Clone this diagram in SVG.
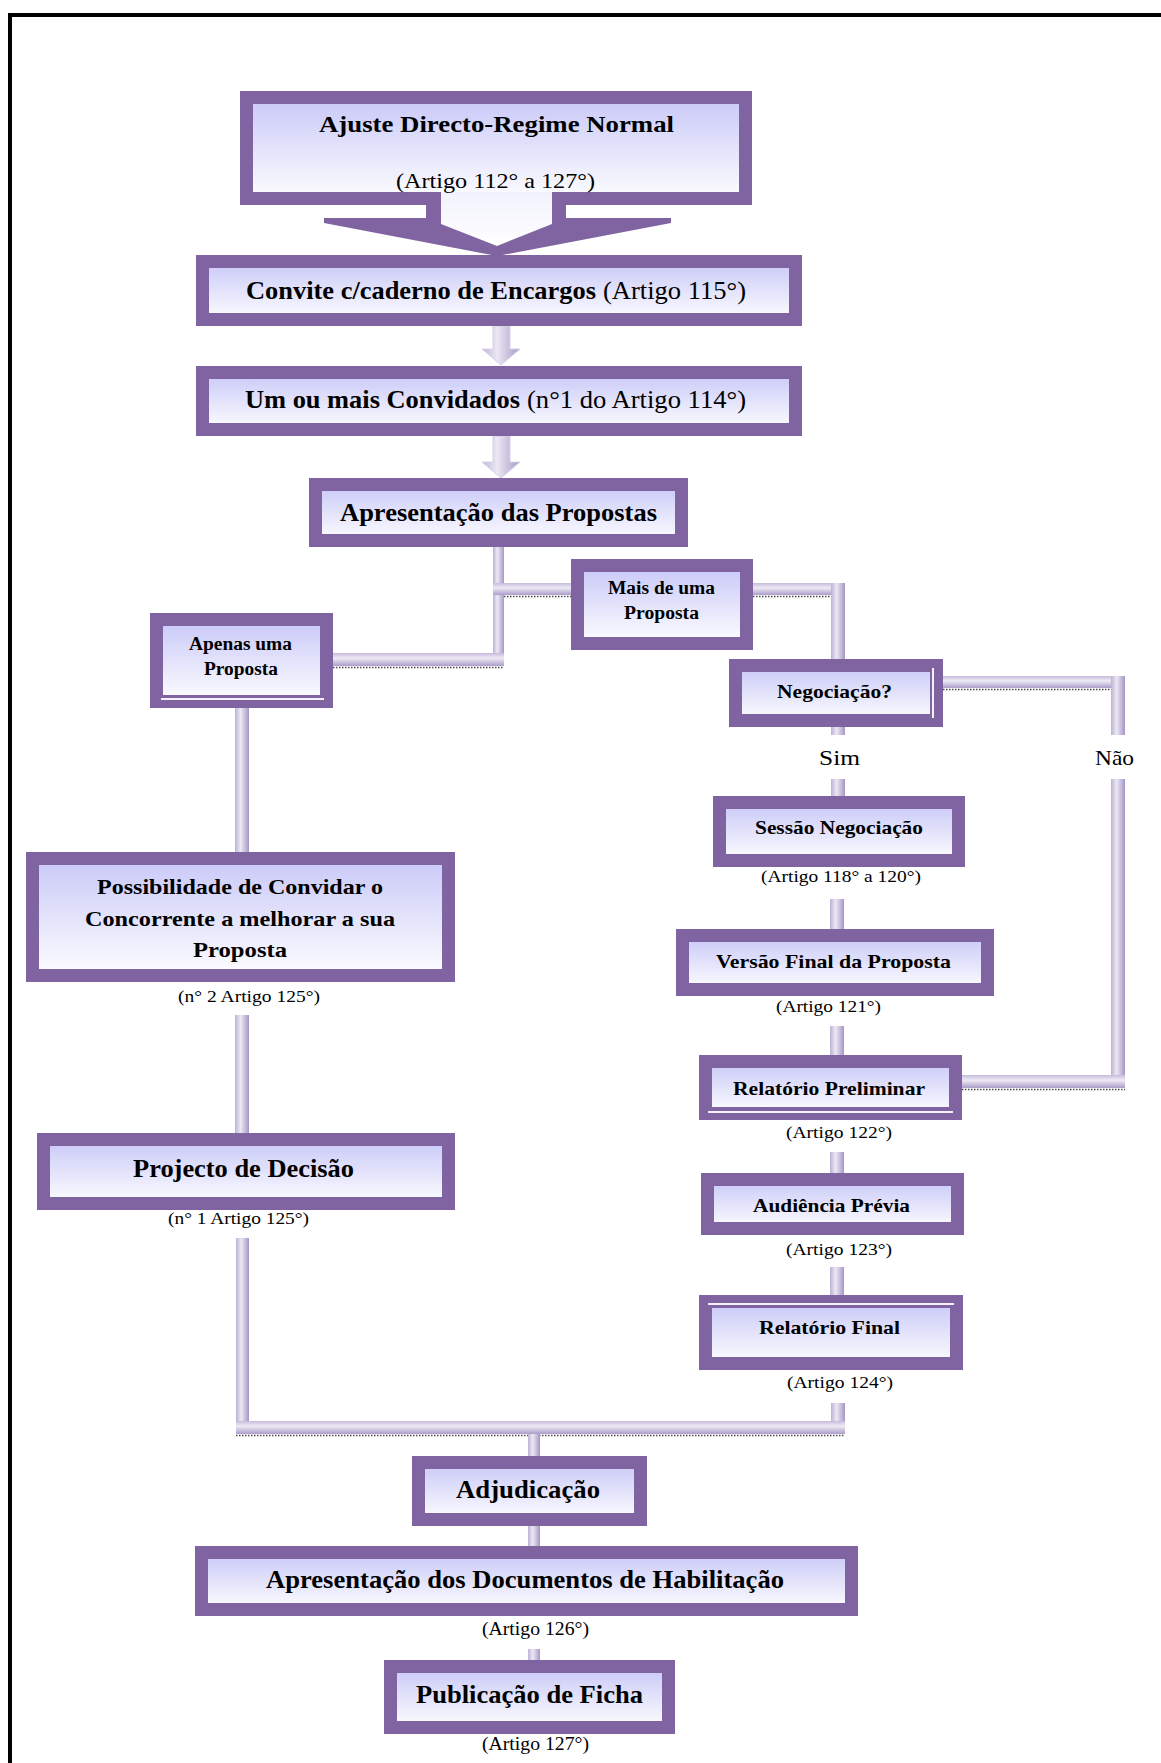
<svg xmlns="http://www.w3.org/2000/svg" width="1161" height="1763" viewBox="0 0 1161 1763">
<defs>
<linearGradient id="bg" x1="0" y1="0" x2="0" y2="1"><stop offset="0" stop-color="#c8c8f8"/><stop offset="1" stop-color="#fdfdff"/></linearGradient>
<linearGradient id="ag" x1="0" y1="0" x2="0" y2="1"><stop offset="0" stop-color="#f2f2fe"/><stop offset="1" stop-color="#ffffff"/></linearGradient>
<linearGradient id="pv" x1="0" y1="0" x2="1" y2="0"><stop offset="0" stop-color="#bdb2d6"/><stop offset="0.4" stop-color="#ece8f4"/><stop offset="1" stop-color="#a597c6"/></linearGradient>
<linearGradient id="ph" x1="0" y1="0" x2="0" y2="1"><stop offset="0" stop-color="#c6bcdc"/><stop offset="0.4" stop-color="#eeeaf5"/><stop offset="1" stop-color="#ab9dca"/></linearGradient>
<style>
.nb{fill:url(#bg);stroke:#8064A2;stroke-width:13}
.t{font-family:"Liberation Serif","Times New Roman",serif;fill:#000}
.b{font-weight:bold}
.pv{fill:url(#pv)}
.ph{fill:url(#ph)}
.dot{stroke:#4a4a4a;stroke-width:1.5;stroke-dasharray:1.5 1.5;fill:none}
.wl{stroke:#f4f0fa;stroke-width:2;fill:none}
</style>
</defs>
<rect width="1161" height="1763" fill="#fff"/>
<path d="M10,1763 V15 H1161" fill="none" stroke="#000" stroke-width="4"/>

<g id="connectors">
<rect class="pv" x="493" y="547" width="11" height="119"/>
<rect class="ph" x="493" y="583" width="78" height="12"/>
<line class="dot" x1="504" y1="596.5" x2="571" y2="596.5"/>
<rect class="ph" x="333" y="653" width="171" height="13"/>
<line class="dot" x1="333" y1="667.5" x2="504" y2="667.5"/>
<rect class="ph" x="753" y="583" width="92" height="12"/>
<line class="dot" x1="753" y1="596.5" x2="831" y2="596.5"/>
<rect class="pv" x="831" y="583" width="14" height="76"/>
<rect class="ph" x="943" y="676" width="182" height="12"/>
<line class="dot" x1="943" y1="689.5" x2="1111" y2="689.5"/>
<rect class="pv" x="1111" y="676" width="14" height="59"/>
<rect class="pv" x="1111" y="779" width="14" height="309"/>
<rect class="ph" x="962" y="1075" width="163" height="13"/>
<line class="dot" x1="962" y1="1089.5" x2="1125" y2="1089.5"/>
<rect class="pv" x="831" y="727" width="14" height="8"/>
<rect class="pv" x="831" y="779" width="14" height="18"/>
<rect class="pv" x="830" y="899" width="14" height="30"/>
<rect class="pv" x="830" y="1026" width="14" height="29"/>
<rect class="pv" x="830" y="1152" width="14" height="21"/>
<rect class="pv" x="830" y="1267" width="14" height="28"/>
<rect class="pv" x="831" y="1403" width="14" height="31"/>
<rect class="pv" x="235" y="708" width="14" height="144"/>
<rect class="pv" x="235" y="1015" width="14" height="118"/>
<rect class="pv" x="236" y="1238" width="13" height="196"/>
<rect class="ph" x="236" y="1421" width="609" height="13"/>
<line class="dot" x1="236" y1="1435.5" x2="845" y2="1435.5"/>
<rect class="pv" x="528" y="1434" width="12" height="22"/>
<rect class="pv" x="528" y="1526" width="12" height="20"/>
<rect class="pv" x="528" y="1649" width="12" height="11"/>
<polygon class="pv" points="493,326 510,326 510,349 520,349 501,365 482,349 493,349" stroke="#d8d0e8" stroke-width="1"/>
<polygon class="pv" points="493,436 510,436 510,462 520,462 501,478 482,462 493,462" stroke="#d8d0e8" stroke-width="1"/>
<text class="t" x="819" y="765" font-size="21" textLength="41" lengthAdjust="spacingAndGlyphs">Sim</text>
<text class="t" x="1095" y="765" font-size="21" textLength="39" lengthAdjust="spacingAndGlyphs">Não</text>
</g>

<g id="n1">
<polygon points="426,200 426,218 324,218 324,223 497,256 671,223 671,218 566,218 566,200" fill="#8064A2"/>
<rect class="nb" x="246.5" y="97.5" width="499" height="101"/>
<polygon points="441,192 441,224 497,246 552,224 552,192" fill="url(#ag)"/>
<text class="t b" x="319" y="132" font-size="23" textLength="355" lengthAdjust="spacingAndGlyphs">Ajuste Directo-Regime Normal</text>
<text class="t" x="396" y="188" font-size="21" textLength="199" lengthAdjust="spacingAndGlyphs">(Artigo 112° a 127°)</text>
</g>

<g id="n2">
<rect class="nb" x="202.5" y="261.5" width="593" height="58"/>
<text class="t b" x="246" y="299" font-size="25" textLength="350" lengthAdjust="spacingAndGlyphs">Convite c/caderno de Encargos</text>
<text class="t" x="603" y="299" font-size="25" textLength="143" lengthAdjust="spacingAndGlyphs">(Artigo 115°)</text>
</g>

<g id="n3">
<rect class="nb" x="202.5" y="372.5" width="593" height="57"/>
<text class="t b" x="245" y="408" font-size="25" textLength="275" lengthAdjust="spacingAndGlyphs">Um ou mais Convidados</text>
<text class="t" x="527" y="408" font-size="25" textLength="219" lengthAdjust="spacingAndGlyphs">(n°1 do Artigo 114°)</text>
</g>

<g id="n4">
<rect class="nb" x="315.5" y="484.5" width="366" height="56"/>
<text class="t b" x="340" y="521" font-size="25" textLength="317" lengthAdjust="spacingAndGlyphs">Apresentação das Propostas</text>
</g>

<g id="n5">
<rect class="nb" x="156.5" y="619.5" width="170" height="82"/>
<line class="wl" x1="161" y1="699" x2="324" y2="699"/>
<text class="t b" x="189" y="650" font-size="18" textLength="103" lengthAdjust="spacingAndGlyphs">Apenas uma</text>
<text class="t b" x="204" y="675" font-size="18" textLength="74" lengthAdjust="spacingAndGlyphs">Proposta</text>
</g>

<g id="n6">
<rect class="nb" x="577.5" y="565.5" width="169" height="78"/>
<text class="t b" x="608" y="594" font-size="18" textLength="107" lengthAdjust="spacingAndGlyphs">Mais de uma</text>
<text class="t b" x="624" y="619" font-size="18" textLength="75" lengthAdjust="spacingAndGlyphs">Proposta</text>
</g>

<g id="n7">
<rect class="nb" x="735.5" y="665.5" width="201" height="55"/>
<line class="wl" x1="933" y1="668" x2="933" y2="718"/>
<text class="t b" x="777" y="698" font-size="19" textLength="115" lengthAdjust="spacingAndGlyphs">Negociação?</text>
</g>

<g id="n8">
<rect class="nb" x="719.5" y="802.5" width="239" height="58"/>
<text class="t b" x="755" y="834" font-size="19" textLength="168" lengthAdjust="spacingAndGlyphs">Sessão Negociação</text>
<text class="t" x="761" y="882" font-size="17" textLength="160" lengthAdjust="spacingAndGlyphs">(Artigo 118° a 120°)</text>
</g>

<g id="n9">
<rect class="nb" x="682.5" y="935.5" width="305" height="54"/>
<text class="t b" x="716" y="968" font-size="19" textLength="235" lengthAdjust="spacingAndGlyphs">Versão Final da Proposta</text>
<text class="t" x="776" y="1012" font-size="17" textLength="105" lengthAdjust="spacingAndGlyphs">(Artigo 121°)</text>
</g>

<g id="n10">
<rect class="nb" x="705.5" y="1061.5" width="250" height="52"/>
<line class="wl" x1="708" y1="1112" x2="953" y2="1112"/>
<text class="t b" x="733" y="1095" font-size="19" textLength="192" lengthAdjust="spacingAndGlyphs">Relatório Preliminar</text>
<text class="t" x="786" y="1138" font-size="17" textLength="106" lengthAdjust="spacingAndGlyphs">(Artigo 122°)</text>
</g>

<g id="n11">
<rect class="nb" x="707.5" y="1179.5" width="250" height="49"/>
<text class="t b" x="753" y="1212" font-size="19" textLength="157" lengthAdjust="spacingAndGlyphs">Audiência Prévia</text>
<text class="t" x="786" y="1255" font-size="17" textLength="106" lengthAdjust="spacingAndGlyphs">(Artigo 123°)</text>
</g>

<g id="n12">
<rect class="nb" x="705.5" y="1301.5" width="251" height="62"/>
<line class="wl" x1="708" y1="1304" x2="954" y2="1304"/>
<text class="t b" x="759" y="1334" font-size="19" textLength="141" lengthAdjust="spacingAndGlyphs">Relatório Final</text>
<text class="t" x="787" y="1388" font-size="17" textLength="106" lengthAdjust="spacingAndGlyphs">(Artigo 124°)</text>
</g>

<g id="n13">
<rect class="nb" x="32.5" y="858.5" width="416" height="117"/>
<text class="t b" x="97" y="894" font-size="21" textLength="286" lengthAdjust="spacingAndGlyphs">Possibilidade de Convidar o</text>
<text class="t b" x="85" y="926" font-size="21" textLength="310" lengthAdjust="spacingAndGlyphs">Concorrente a melhorar a sua</text>
<text class="t b" x="193" y="957" font-size="21" textLength="94" lengthAdjust="spacingAndGlyphs">Proposta</text>
<text class="t" x="178" y="1002" font-size="17" textLength="142" lengthAdjust="spacingAndGlyphs">(n° 2 Artigo 125°)</text>
</g>

<g id="n14">
<rect class="nb" x="43.5" y="1139.5" width="405" height="64"/>
<text class="t b" x="133" y="1177" font-size="25" textLength="221" lengthAdjust="spacingAndGlyphs">Projecto de Decisão</text>
<text class="t" x="168" y="1224" font-size="17" textLength="141" lengthAdjust="spacingAndGlyphs">(n° 1 Artigo 125°)</text>
</g>

<g id="n15">
<rect class="nb" x="418.5" y="1462.5" width="222" height="57"/>
<text class="t b" x="456" y="1498" font-size="25" textLength="144" lengthAdjust="spacingAndGlyphs">Adjudicação</text>
</g>

<g id="n16">
<rect class="nb" x="201.5" y="1552.5" width="650" height="57"/>
<text class="t b" x="266" y="1588" font-size="25" textLength="518" lengthAdjust="spacingAndGlyphs">Apresentação dos Documentos de Habilitação</text>
<text class="t" x="482" y="1635" font-size="18" textLength="107" lengthAdjust="spacingAndGlyphs">(Artigo 126°)</text>
</g>

<g id="n17">
<rect class="nb" x="390.5" y="1666.5" width="278" height="61"/>
<text class="t b" x="416" y="1703" font-size="25" textLength="227" lengthAdjust="spacingAndGlyphs">Publicação de Ficha</text>
<text class="t" x="482" y="1750" font-size="18" textLength="107" lengthAdjust="spacingAndGlyphs">(Artigo 127°)</text>
</g>
</svg>
